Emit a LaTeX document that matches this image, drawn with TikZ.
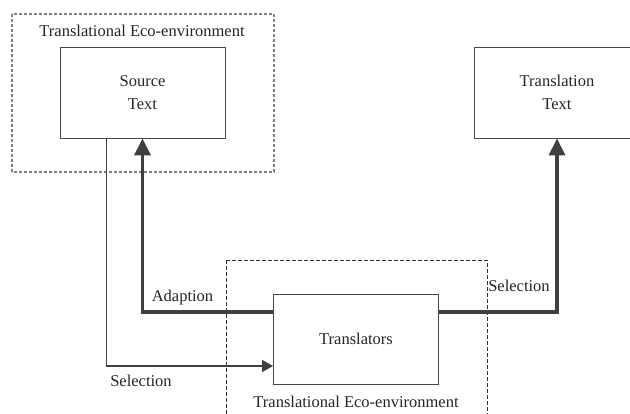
\documentclass[tikz,border=0pt]{standalone}
\usepackage{fontspec}
\setmainfont{Liberation Serif}
\usetikzlibrary{arrows.meta}
\tikzset{
  box/.style={draw=black!72, line width=0.9pt, fill=white, minimum width=165pt, minimum height=91pt, align=center, inner sep=0pt, font=\fontsize{16.5}{23}\selectfont, text=black!85},
  lbl/.style={font=\fontsize{16.5}{20}\selectfont, text=black!85, inner sep=0pt},
  envA/.style={draw=black!50, line width=1.1pt, dash pattern=on 3pt off 2pt},
  envB/.style={draw=black!80, line width=0.6pt, dash pattern=on 4pt off 2pt},
  thickarrow/.style={draw=black!75, line width=3.6pt, -{Triangle[length=17pt,width=16pt]}},
  thinarrow/.style={draw=black!75, line width=1.4pt, -{Triangle[length=11pt,width=12pt]}}
}
\begin{document}
\begin{tikzpicture}[x=1pt, y=-1pt]
\useasboundingbox (0,0) rectangle (630,414);
\clip (0,0) rectangle (630,414);
\fill[white] (0,0) rectangle (630,414);
% environments
\draw[envA] (12,14) rectangle (274,172);
\draw[envB] (226,260) rectangle (487,430);
\node[lbl] (envAlbl) at (142,31) {Translational Eco-environment};
\node[lbl] (envBlbl) at (356,402) {Translational Eco-environment};
% boxes
\node[box] (src) at (142.5,92.5) {Source\\Text};
\node[box] (tgt) at (557,92.5) {Translation\\Text};
\node[box, minimum height=90pt] (trans) at (356,339) {Translators};
% connectors
\draw[thickarrow] ([yshift=27pt]trans.west) -| (src.south);
\draw[thickarrow] ([yshift=27pt]trans.east) -| (tgt.south);
\draw[thinarrow] ([xshift=-36pt]src.south) |- ([yshift=-27pt]trans.west);
% labels
\node[lbl] (adapt) at (182.5,298) {Adaption};
\node[lbl] (sel1) at (141,381) {Selection};
\node[lbl] (sel2) at (519,286) {Selection};
\end{tikzpicture}
\end{document}
